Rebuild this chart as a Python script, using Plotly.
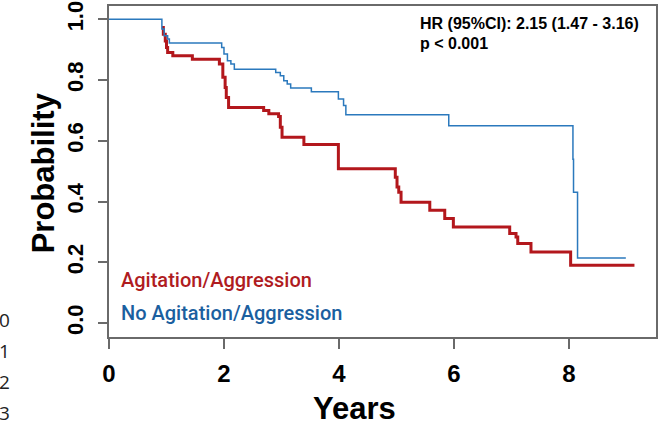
import plotly.graph_objects as go

# Kaplan-Meier step estimates (time in years, survival probability)
no_agit_time = [0, 0.92, 0.96, 1.02, 1.05, 1.16, 1.96, 2.0, 2.06, 2.12, 2.18,
                2.90, 2.98, 3.04, 3.10, 3.16, 3.52, 3.99, 4.08, 4.12, 5.91,
                8.07, 8.08, 8.15, 8.99]
no_agit_surv = [1.0, 0.968, 0.946, 0.935, 0.922, 0.922, 0.907, 0.886, 0.864, 0.853, 0.836,
                0.825, 0.814, 0.798, 0.787, 0.774, 0.762, 0.738, 0.716, 0.686, 0.650,
                0.539, 0.431, 0.214, 0.214]

agit_time = [0.92, 0.945, 0.979, 1.0, 1.02, 1.11, 1.45, 1.92, 1.98, 2.02, 2.04, 2.08,
             2.69, 2.78, 2.95, 2.98, 3.01, 3.39, 3.99, 4.98, 5.01, 5.04, 5.08,
             5.58, 5.84, 5.99, 6.97, 7.08, 7.11, 7.34, 8.03, 9.14]
agit_surv = [0.973, 0.951, 0.929, 0.907, 0.891, 0.880, 0.869, 0.853, 0.809, 0.776, 0.743, 0.710,
             0.700, 0.689, 0.680, 0.645, 0.612, 0.588, 0.508, 0.480, 0.448, 0.431, 0.398,
             0.371, 0.344, 0.316, 0.295, 0.283, 0.262, 0.234, 0.190, 0.190]

x_ticks = [0, 2, 4, 6, 8]
y_ticks = [0.0, 0.2, 0.4, 0.6, 0.8, 1.0]
y_tick_text = ["0.0", "0.2", "0.4", "0.6", "0.8", "1.0"]
side_labels = ["0", "1", "2", "3"]

RED = "#b3171c"
BLUE = "#2b79bd"
RED_TXT = "#b01c1f"
BLUE_TXT = "#1b5f9f"
AXIS = "#6a6a6a"
SANS = "Liberation Sans, Arial, sans-serif"
LEGEND_FONT = "Roboto, Liberation Sans, sans-serif"

W, H = 659, 430
L, R, T, B = 109, 1, 5, 93
PW, PH = W - L - R, H - T - B

fig = go.Figure()
fig.add_trace(go.Scatter(x=agit_time, y=agit_surv, mode="lines", line_shape="hv",
                         line=dict(color=RED, width=3), hoverinfo="skip"))
fig.add_trace(go.Scatter(x=no_agit_time, y=no_agit_surv, mode="lines", line_shape="hv",
                         line=dict(color=BLUE, width=1.5), hoverinfo="skip"))

def px_x(px):
    return (px - L) / PW

def px_y(py):
    return (H - B - py) / PH

ann = [
    dict(text="Probability", x=px_x(24), y=px_y(172), textangle=-90,
         font=dict(family=SANS, size=31, color="black", weight="bold")),
    dict(text="Years", x=px_x(355), y=px_y(409),
         font=dict(family=SANS, size=31, color="black", weight="bold")),
    dict(text="Agitation/Aggression", x=px_x(119), y=px_y(280), xanchor="left",
         font=dict(family=LEGEND_FONT, size=20, color=RED_TXT, weight=500)),
    dict(text="No Agitation/Aggression", x=px_x(119), y=px_y(313), xanchor="left",
         font=dict(family=LEGEND_FONT, size=20, color=BLUE_TXT, weight=500)),
    dict(text="HR (95%CI): 2.15 (1.47 - 3.16)", x=px_x(419), y=px_y(23), xanchor="left",
         font=dict(family=SANS, size=16, color="black", weight="bold")),
    dict(text="p < 0.001", x=px_x(419), y=px_y(43), xanchor="left",
         font=dict(family=SANS, size=16, color="black", weight="bold")),
]
for i, s in enumerate(side_labels):
    ann.append(dict(text=s, x=px_x(12), y=px_y(320 + 31 * i), xanchor="right",
                    font=dict(family="Open Sans, sans-serif", size=19, color="#222")))
for a in ann:
    a.update(xref="paper", yref="paper", showarrow=False)
    a.setdefault("yanchor", "middle")

fig.update_layout(
    width=W, height=H, margin=dict(l=L, r=R, t=T, b=B),
    paper_bgcolor="white", plot_bgcolor="white", showlegend=False,
    annotations=ann,
    xaxis=dict(range=[0, PW / 57.7], tickvals=x_ticks, ticks="outside", ticklen=10,
               tickwidth=1.5, tickcolor=AXIS, showline=True, linecolor=AXIS, linewidth=1.5,
               mirror=True, showgrid=False, zeroline=False, ticklabelstandoff=4,
               tickfont=dict(family=SANS, size=24, color="black", weight="bold")),
    yaxis=dict(range=[-0.046, 1.044], tickvals=y_ticks, ticktext=y_tick_text, tickangle=-90,
               ticks="outside", ticklen=9, tickwidth=1.5, tickcolor=AXIS, showline=True,
               linecolor=AXIS, linewidth=1.5, mirror=True, showgrid=False, zeroline=False,
               ticklabeloverflow="allow", ticklabelstandoff=6,
               tickfont=dict(family=SANS, size=22, color="black", weight="bold")),
)

fig.write_html("out.html")
